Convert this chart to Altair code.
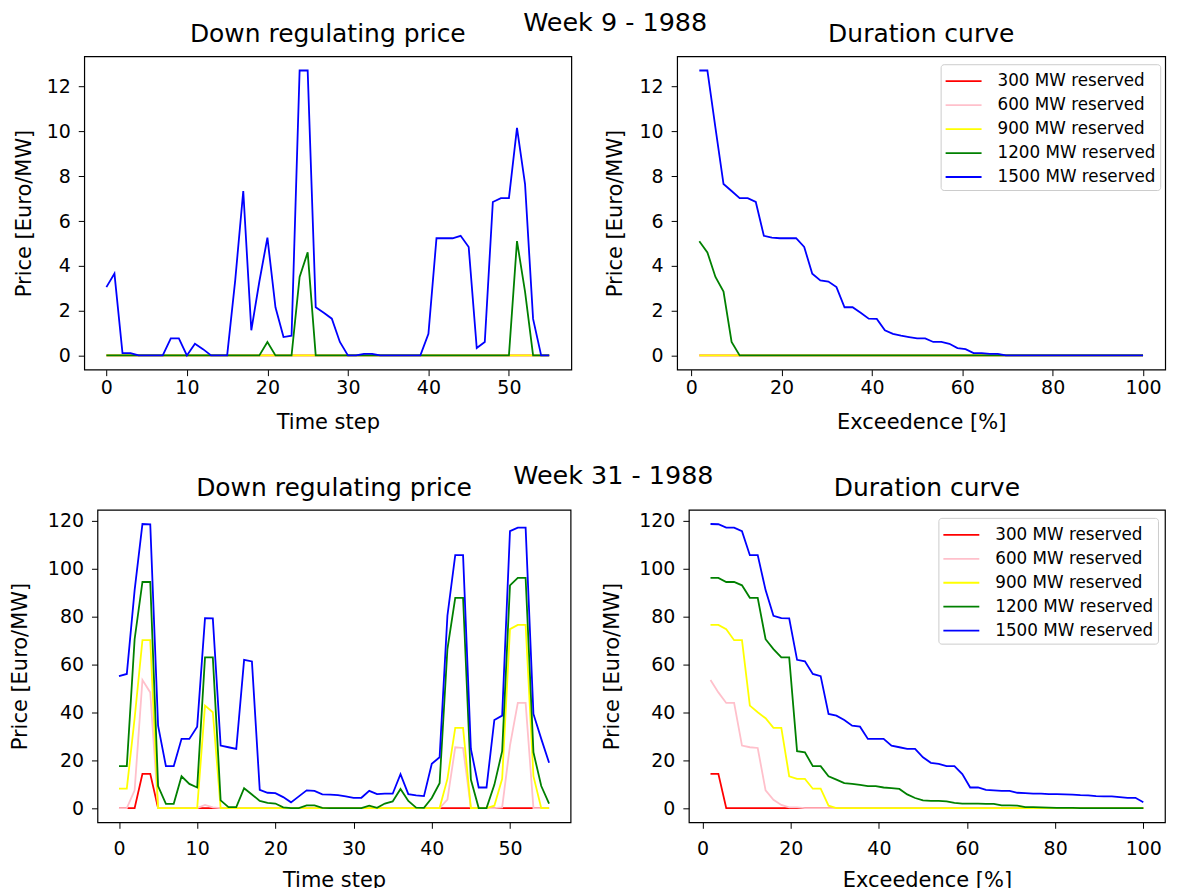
import altair as alt
import pandas as pd

FONT = "DejaVu Sans"

TIME_STEPS = list(range(56))
SERIES = ["300 MW reserved", "600 MW reserved", "900 MW reserved",
          "1200 MW reserved", "1500 MW reserved"]
COLORS = ["red", "pink", "yellow", "green", "blue"]

TS_X_TICKS = [0, 10, 20, 30, 40, 50]
DUR_X_TICKS = [0, 20, 40, 60, 80, 100]
W9_Y_TICKS = [0, 2, 4, 6, 8, 10, 12]
W31_Y_TICKS = [0, 20, 40, 60, 80, 100, 120]

# ---------------- Week 9 - 1988 ----------------
w9_300 = [0, 0, 0, 0, 0, 0, 0, 0, 0, 0,
          0, 0, 0, 0, 0, 0, 0, 0, 0, 0,
          0, 0, 0, 0, 0, 0, 0, 0, 0, 0,
          0, 0, 0, 0, 0, 0, 0, 0, 0, 0,
          0, 0, 0, 0, 0, 0, 0, 0, 0, 0,
          0, 0, 0, 0, 0, 0]
w9_600 = [0, 0, 0, 0, 0, 0, 0, 0, 0, 0,
          0, 0, 0, 0, 0, 0, 0, 0, 0, 0,
          0, 0, 0, 0, 0, 0, 0, 0, 0, 0,
          0, 0, 0, 0, 0, 0, 0, 0, 0, 0,
          0, 0, 0, 0, 0, 0, 0, 0, 0, 0,
          0, 0, 0, 0, 0, 0]
w9_900 = [0, 0, 0, 0, 0, 0, 0, 0, 0, 0,
          0, 0, 0, 0, 0, 0, 0, 0, 0, 0,
          0, 0, 0, 0, 0, 0, 0, 0, 0, 0,
          0, 0, 0, 0, 0, 0, 0, 0, 0, 0,
          0, 0, 0, 0, 0, 0, 0, 0, 0, 0,
          0, 0, 0, 0, 0, 0]
w9_1200 = [0, 0, 0, 0, 0, 0, 0, 0, 0, 0,
           0, 0, 0, 0, 0, 0, 0, 0, 0, 0,
           0.6, 0, 0, 0, 3.5, 4.6, 0, 0, 0, 0,
           0, 0, 0, 0, 0, 0, 0, 0, 0, 0,
           0, 0, 0, 0, 0, 0, 0, 0, 0, 0,
           0, 5.1, 2.85, 0, 0, 0]
w9_1500 = [3.05, 3.65, 0.1, 0.1, 0, 0, 0, 0, 0.76, 0.76,
           0, 0.52, 0.28, 0, 0, 0, 3.35, 7.34, 1.12, 3.3,
           5.26, 2.15, 0.82, 0.88, 12.72, 12.72, 2.15, 1.9, 1.64, 0.6,
           0, 0, 0.07, 0.07, 0, 0, 0, 0, 0, 0,
           0.96, 5.23, 5.23, 5.23, 5.34, 4.84, 0.33, 0.6, 6.85, 7.02,
           7.02, 10.16, 7.65, 1.63, 0, 0]

# ---------------- Week 31 - 1988 ----------------
w31_300 = [0, 0, 0, 14.3, 14.3, 0, 0, 0, 0, 0,
           0, 0, 0, 0, 0, 0, 0, 0, 0, 0,
           0, 0, 0, 0, 0, 0, 0, 0, 0, 0,
           0, 0, 0, 0, 0, 0, 0, 0, 0, 0,
           0, 0, 0, 0, 0, 0, 0, 0, 0, 0,
           0, 0, 0, 0, 0, 0]
w31_600 = [0, 0, 7.4, 53.5, 48.3, 0, 0, 0, 0, 0,
           0, 1.3, 0.3, 0, 0, 0, 0, 0, 0, 0,
           0, 0, 0, 0, 0, 0, 0, 0, 0, 0,
           0, 0, 0, 0, 0, 0, 0, 0, 0, 0,
           0, 0, 3.5, 25.4, 25.1, 0, 0, 0, 0, 0.3,
           26.1, 43.9, 43.9, 0, 0, 0]
w31_900 = [8.1, 8.1, 37.5, 70.1, 70.1, 0, 0, 0, 0, 0,
           0, 42.8, 40.0, 0, 0, 0, 0, 0, 0, 0,
           0, 0, 0, 0, 0, 0, 0, 0, 0, 0,
           0, 0, 0, 0, 0, 0, 0, 0, 0, 0,
           0, 0, 12.2, 33.5, 33.5, 0, 0, 0, 1.0, 12.2,
           74.7, 76.5, 76.5, 13.3, 0, 0]
w31_1200 = [17.5, 17.5, 70.5, 94.4, 94.4, 9.2, 1.8, 1.8, 13.3, 10.1,
            8.6, 62.9, 62.9, 3.2, 0.4, 0.4, 8.3, 5.7, 3.0, 2.2,
            1.9, 0.3, 0, 0, 1.1, 1.1, 0.1, 0, 0, 0,
            0, 0, 1.0, 0.1, 1.9, 2.8, 8.0, 3.0, 0.2, 0.1,
            4.2, 10.4, 66.4, 87.8, 87.8, 11.9, 0, 0, 9.7, 23.75,
            93.0, 96.1, 96.1, 23.3, 9.2, 1.9]
w31_1500 = [55.1, 56.0, 91.0, 118.6, 118.5, 34.4, 17.5, 17.5, 28.9, 28.9,
            34.0, 79.3, 79.2, 26.1, 25.4, 24.7, 61.9, 61.25, 7.6, 6.4,
            6.25, 4.6, 2.4, 4.9, 7.4, 7.2, 5.7, 5.6, 5.4, 4.9,
            4.3, 4.3, 7.2, 5.8, 6.0, 6.0, 14.2, 5.8, 5.3, 5.0,
            18.5, 21.2, 80.3, 105.6, 105.6, 24.7, 8.6, 8.6, 36.8, 38.6,
            115.6, 117.1, 117.1, 39.3, 28.9, 18.9]


def to_frame(series_values):
    rows = []
    for name, vals in zip(SERIES, series_values):
        for t, v in zip(TIME_STEPS, vals):
            rows.append({"step": t, "series": name, "price": v})
    return pd.DataFrame(rows)


df9 = to_frame([w9_300, w9_600, w9_900, w9_1200, w9_1500])
df31 = to_frame([w31_300, w31_600, w31_900, w31_1200, w31_1500])
N = len(TIME_STEPS)

color_scale = alt.Scale(domain=SERIES, range=COLORS)


def axis(values, title, label_pad, title_pad):
    return alt.Axis(values=values, title=title, grid=False, domain=False,
                    tickColor="black", tickSize=6, tickWidth=1,
                    labelColor="black", labelFont=FONT, labelFontSize=19,
                    labelPadding=label_pad, titleFont=FONT, titleFontSize=21,
                    titleFontWeight="normal", titleColor="black",
                    titlePadding=title_pad, labelFlush=False)


def legend_for(lx, ly):
    return alt.Legend(title=None, orient="none", legendX=lx, legendY=ly,
                      symbolType="M-1.5,0H1.5", symbolSize=576, symbolOffset=6,
                      symbolStrokeWidth=1.8, labelFont=FONT, labelFontSize=16.8,
                      labelColor="black", strokeColor="#cccccc",
                      fillColor="white", padding=4, cornerRadius=3,
                      rowPadding=2, labelOffset=21)


def panel_title(text):
    return alt.TitleParams(text, font=FONT, fontSize=25, fontWeight="normal",
                           color="black", anchor="middle", baseline="alphabetic",
                           offset=-11.2)


def ts_panel(df, ydom, yticks, w, h, pads):
    xl, xt, yl, yt = pads
    layers = []
    for s in SERIES:
        layers.append(
            alt.Chart(df).transform_filter(alt.datum.series == s)
            .mark_line(strokeWidth=1.8)
            .encode(
                x=alt.X("step:Q", scale=alt.Scale(domain=[-2.75, 57.75], nice=False, zero=False),
                        axis=axis(TS_X_TICKS, "Time step", xl, xt)),
                y=alt.Y("price:Q", scale=alt.Scale(domain=ydom, nice=False, zero=False),
                        axis=axis(yticks, "Price [Euro/MW]", yl, yt)),
                color=alt.Color("series:N", scale=color_scale, legend=None),
            )
        )
    return alt.layer(*layers).properties(width=w, height=h,
                                         title=panel_title("Down regulating price"))


def dur_panel(df, ydom, yticks, w, h, lx, ly, pads):
    xl, xt, yl, yt = pads
    layers = []
    for i, s in enumerate(SERIES):
        layers.append(
            alt.Chart(df).transform_filter(alt.datum.series == s)
            .transform_window(rank="row_number()",
                              sort=[alt.SortField("price", order="descending")])
            .transform_calculate(exceed=f"datum.rank / {N} * 100")
            .mark_line(strokeWidth=1.8)
            .encode(
                x=alt.X("exceed:Q", scale=alt.Scale(domain=[-3.125, 104.911], nice=False, zero=False),
                        axis=axis(DUR_X_TICKS, "Exceedence [%]", xl, xt)),
                y=alt.Y("price:Q", scale=alt.Scale(domain=ydom, nice=False, zero=False),
                        axis=axis(yticks, "Price [Euro/MW]", yl, yt)),
                color=alt.Color("series:N", scale=color_scale,
                                legend=legend_for(lx, ly) if i == 0 else None),
            )
        )
    return alt.layer(*layers).properties(width=w, height=h,
                                         title=panel_title("Duration curve"))


def sup_title(text):
    return alt.TitleParams(text, font=FONT, fontSize=25.5, fontWeight="normal",
                           color="black", anchor="middle", baseline="alphabetic",
                           offset=-34.2, dx=26)


# invisible spacer used only to balance the two rows in the centred layout
spacer = alt.Chart(pd.DataFrame({"a": [0]})).mark_point(opacity=0, size=1).encode(
    x=alt.value(0), y=alt.value(0)
).properties(width=11.6, height=10, view=alt.ViewBackground(stroke=None))

y9 = [-0.636, 13.356]
y31 = [-5.93, 124.5]

tl_pads = (3, 13.5, 8, 12)
tr_pads = (3, 13.5, 8, 14)
row2_pads = (11, 11.5, 8, 16.5)

row1_inner = alt.hconcat(
    ts_panel(df9, y9, W9_Y_TICKS, 488, 314, tl_pads),
    dur_panel(df9, y9, W9_Y_TICKS, 489, 314, 264, 8, tr_pads),
    spacing=31, title=sup_title("Week 9 - 1988"),
).resolve_scale(color="independent").resolve_legend(color="independent")

row1 = alt.hconcat(row1_inner, spacer, spacing=0).resolve_scale(
    color="independent").resolve_legend(color="independent")

row2 = alt.hconcat(
    ts_panel(df31, y31, W31_Y_TICKS, 474, 313, row2_pads),
    dur_panel(df31, y31, W31_Y_TICKS, 477, 313, 250, 8, row2_pads),
    spacing=28.5, title=sup_title("Week 31 - 1988"),
).resolve_scale(color="independent").resolve_legend(color="independent")

chart = alt.vconcat(row1, row2, spacing=30.5, center=True).resolve_scale(
    color="independent").resolve_legend(color="independent").properties(
    padding={"left": 1.2, "top": 1.5, "right": -10, "bottom": 0},
    background="white",
).configure_view(stroke="black", strokeWidth=1.2)

chart.save("out.html", embed_options={"renderer": "svg", "actions": False})
